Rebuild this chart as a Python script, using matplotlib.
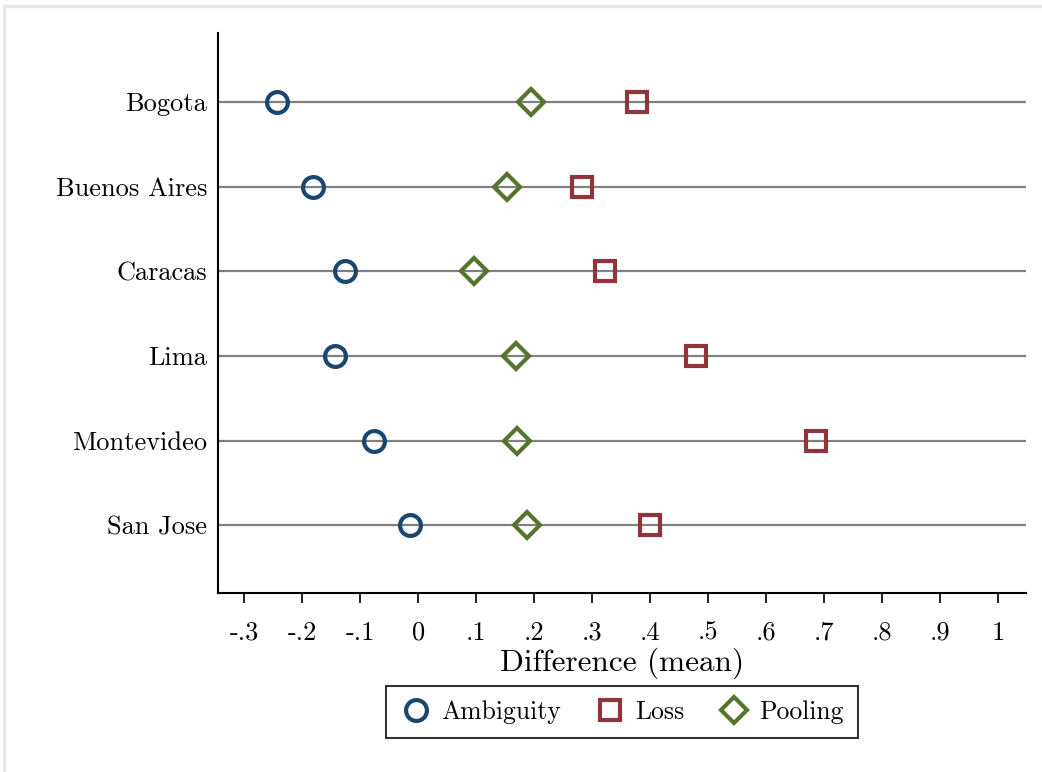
import matplotlib.pyplot as plt
from matplotlib.patches import Rectangle

cities = ["Bogota", "Buenos Aires", "Caracas", "Lima", "Montevideo", "San Jose"]
ambiguity = [-0.243, -0.181, -0.126, -0.143, -0.076, -0.014]
loss = [0.378, 0.283, 0.322, 0.479, 0.686, 0.400]
pooling = [0.195, 0.153, 0.097, 0.169, 0.171, 0.188]
xticks = [-0.3, -0.2, -0.1, 0, 0.1, 0.2, 0.3, 0.4, 0.5, 0.6, 0.7, 0.8, 0.9, 1]
xticklabels = ["-.3", "-.2", "-.1", "0", ".1", ".2", ".3", ".4", ".5", ".6",
               ".7", ".8", ".9", "1"]

plt.rcParams["font.family"] = ["cmr10", "DejaVu Serif"]
plt.rcParams["axes.formatter.use_mathtext"] = True

fig = plt.figure(figsize=(10.42, 7.72), dpi=100)
fig.patches.append(Rectangle((4 / 1042, -0.1), 1.2, 1 - 6 / 772 + 0.1,
                             transform=fig.transFigure, fill=False,
                             edgecolor="#e6eaea", linewidth=2.5))
ax = fig.add_axes([218 / 1042, 1 - 593 / 772, 808 / 1042, 560 / 772])

ypos = list(range(len(cities)))
for y in ypos:
    ax.axhline(y, color="#808080", linewidth=1.6, zorder=1)

mk = dict(linestyle="none", markersize=15, markeredgewidth=3,
          markerfacecolor="none", zorder=3)
ax.plot(ambiguity, ypos, marker="o", color="#1a476f", label="Ambiguity", **mk)
ax.plot(loss, ypos, marker="s", color="#90353b", label="Loss",
        **{**mk, "markersize": 14})
ax.plot(pooling, ypos, marker="D", color="#55752f", label="Pooling",
        **{**mk, "markersize": 13.5})

ax.set_xlim(-0.345, 1.048)
ax.set_ylim(5.80, -0.816)
ax.set_yticks(ypos)
ax.set_yticklabels(cities, fontsize=19)
ax.tick_params(axis="y", length=0, pad=8)
ax.set_xticks(xticks)
ax.set_xticklabels(xticklabels, fontsize=19)
ax.tick_params(axis="x", length=7, width=1.2, pad=13)
ax.set_xlabel("Difference (mean)", fontsize=22.5, labelpad=2)

for s in ["top", "right"]:
    ax.spines[s].set_visible(False)
for s in ["left", "bottom"]:
    ax.spines[s].set_linewidth(1.5)

leg = ax.legend(loc="upper center", bbox_to_anchor=(0.5, -0.143), ncol=3,
                fontsize=18.5, frameon=True, fancybox=False, handletextpad=0.4,
                columnspacing=1.3, borderpad=0.55, handlelength=1.2)
leg.get_frame().set_edgecolor("black")
leg.get_frame().set_linewidth(1.5)

fig.savefig("out.png", dpi=100)
